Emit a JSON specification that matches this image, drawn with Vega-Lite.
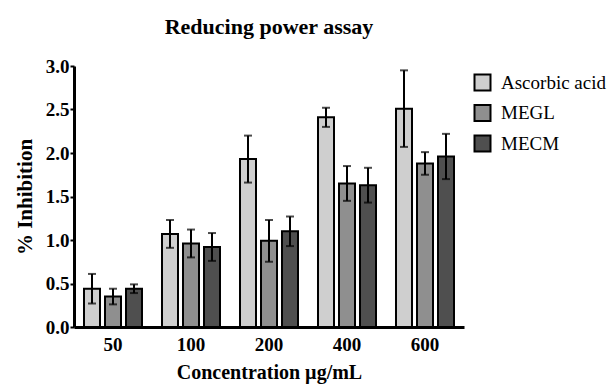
{
  "$schema": "https://vega.github.io/schema/vega-lite/v6.json",
  "width": 390,
  "height": 261,
  "autosize": {"type": "none"},
  "padding": {"left": 74, "top": 66, "right": 150, "bottom": 60},
  "background": "white",
  "title": {"text": "Reducing power assay", "font": "Liberation Serif", "fontSize": 22, "fontWeight": "bold", "color": "black", "anchor": "middle", "offset": 18},
  "data": {"values": [
    {"conc": "50", "series": "Ascorbic acid", "value": 0.44, "lo": 0.27, "hi": 0.61},
    {"conc": "50", "series": "MEGL", "value": 0.35, "lo": 0.26, "hi": 0.44},
    {"conc": "50", "series": "MECM", "value": 0.44, "lo": 0.39, "hi": 0.49},
    {"conc": "100", "series": "Ascorbic acid", "value": 1.07, "lo": 0.91, "hi": 1.23},
    {"conc": "100", "series": "MEGL", "value": 0.96, "lo": 0.80, "hi": 1.12},
    {"conc": "100", "series": "MECM", "value": 0.92, "lo": 0.76, "hi": 1.08},
    {"conc": "200", "series": "Ascorbic acid", "value": 1.93, "lo": 1.66, "hi": 2.20},
    {"conc": "200", "series": "MEGL", "value": 0.99, "lo": 0.75, "hi": 1.23},
    {"conc": "200", "series": "MECM", "value": 1.10, "lo": 0.93, "hi": 1.27},
    {"conc": "400", "series": "Ascorbic acid", "value": 2.41, "lo": 2.30, "hi": 2.52},
    {"conc": "400", "series": "MEGL", "value": 1.65, "lo": 1.45, "hi": 1.85},
    {"conc": "400", "series": "MECM", "value": 1.63, "lo": 1.43, "hi": 1.83},
    {"conc": "600", "series": "Ascorbic acid", "value": 2.51, "lo": 2.07, "hi": 2.95},
    {"conc": "600", "series": "MEGL", "value": 1.88, "lo": 1.75, "hi": 2.01},
    {"conc": "600", "series": "MECM", "value": 1.96, "lo": 1.70, "hi": 2.22}
  ]},
  "encoding": {
    "x": {"field": "conc", "type": "ordinal", "sort": ["50", "100", "200", "400", "600"],
      "scale": {"paddingInner": 0, "paddingOuter": 0},
      "axis": {"labelAngle": 0, "ticks": false, "labelPadding": 8, "title": "Concentration µg/mL", "titlePadding": 8}},
    "xOffset": {"field": "series", "type": "nominal", "sort": ["Ascorbic acid", "MEGL", "MECM"],
      "scale": {"paddingInner": 0.238, "paddingOuter": 0.476}}
  },
  "layer": [
    {
      "mark": {"type": "bar", "stroke": "black", "strokeWidth": 2},
      "encoding": {
        "y": {"field": "value", "type": "quantitative", "scale": {"domain": [0, 3], "nice": false},
          "axis": {"values": [0, 0.5, 1, 1.5, 2, 2.5, 3], "format": ".1f", "grid": false, "tickSize": 4, "tickWidth": 2, "labelPadding": 1, "title": "% Inhibition", "titlePadding": 10, "titleFontSize": 21}},
        "color": {"field": "series", "type": "nominal", "sort": ["Ascorbic acid", "MEGL", "MECM"],
          "scale": {"range": ["#cfcfcf", "#8f8f8f", "#4f4f4f"]},
          "legend": {"title": null, "orient": "none", "legendX": 399, "legendY": 7, "symbolType": "square", "symbolSize": 256, "symbolStrokeColor": "black", "symbolStrokeWidth": 2, "symbolOpacity": 1, "labelFont": "Liberation Serif", "labelFontSize": 19, "labelColor": "black", "rowPadding": 5.5, "labelOffset": 9}}
      }
    },
    {
      "mark": {"type": "rule", "color": "black", "strokeWidth": 2},
      "encoding": {"y": {"field": "lo", "type": "quantitative"}, "y2": {"field": "hi"}}
    },
    {
      "mark": {"type": "tick", "color": "black", "thickness": 2, "size": 8},
      "encoding": {"y": {"field": "hi", "type": "quantitative"}}
    },
    {
      "mark": {"type": "tick", "color": "black", "thickness": 2, "size": 8},
      "encoding": {"y": {"field": "lo", "type": "quantitative"}}
    }
  ],
  "config": {
    "font": "Liberation Serif",
    "view": {"stroke": null},
    "axis": {"domainColor": "black", "domainWidth": 3, "tickColor": "black", "labelFont": "Liberation Serif", "labelFontWeight": "bold", "labelFontSize": 19, "labelColor": "black", "titleFont": "Liberation Serif", "titleFontWeight": "bold", "titleFontSize": 20, "titleColor": "black"}
  }
}
